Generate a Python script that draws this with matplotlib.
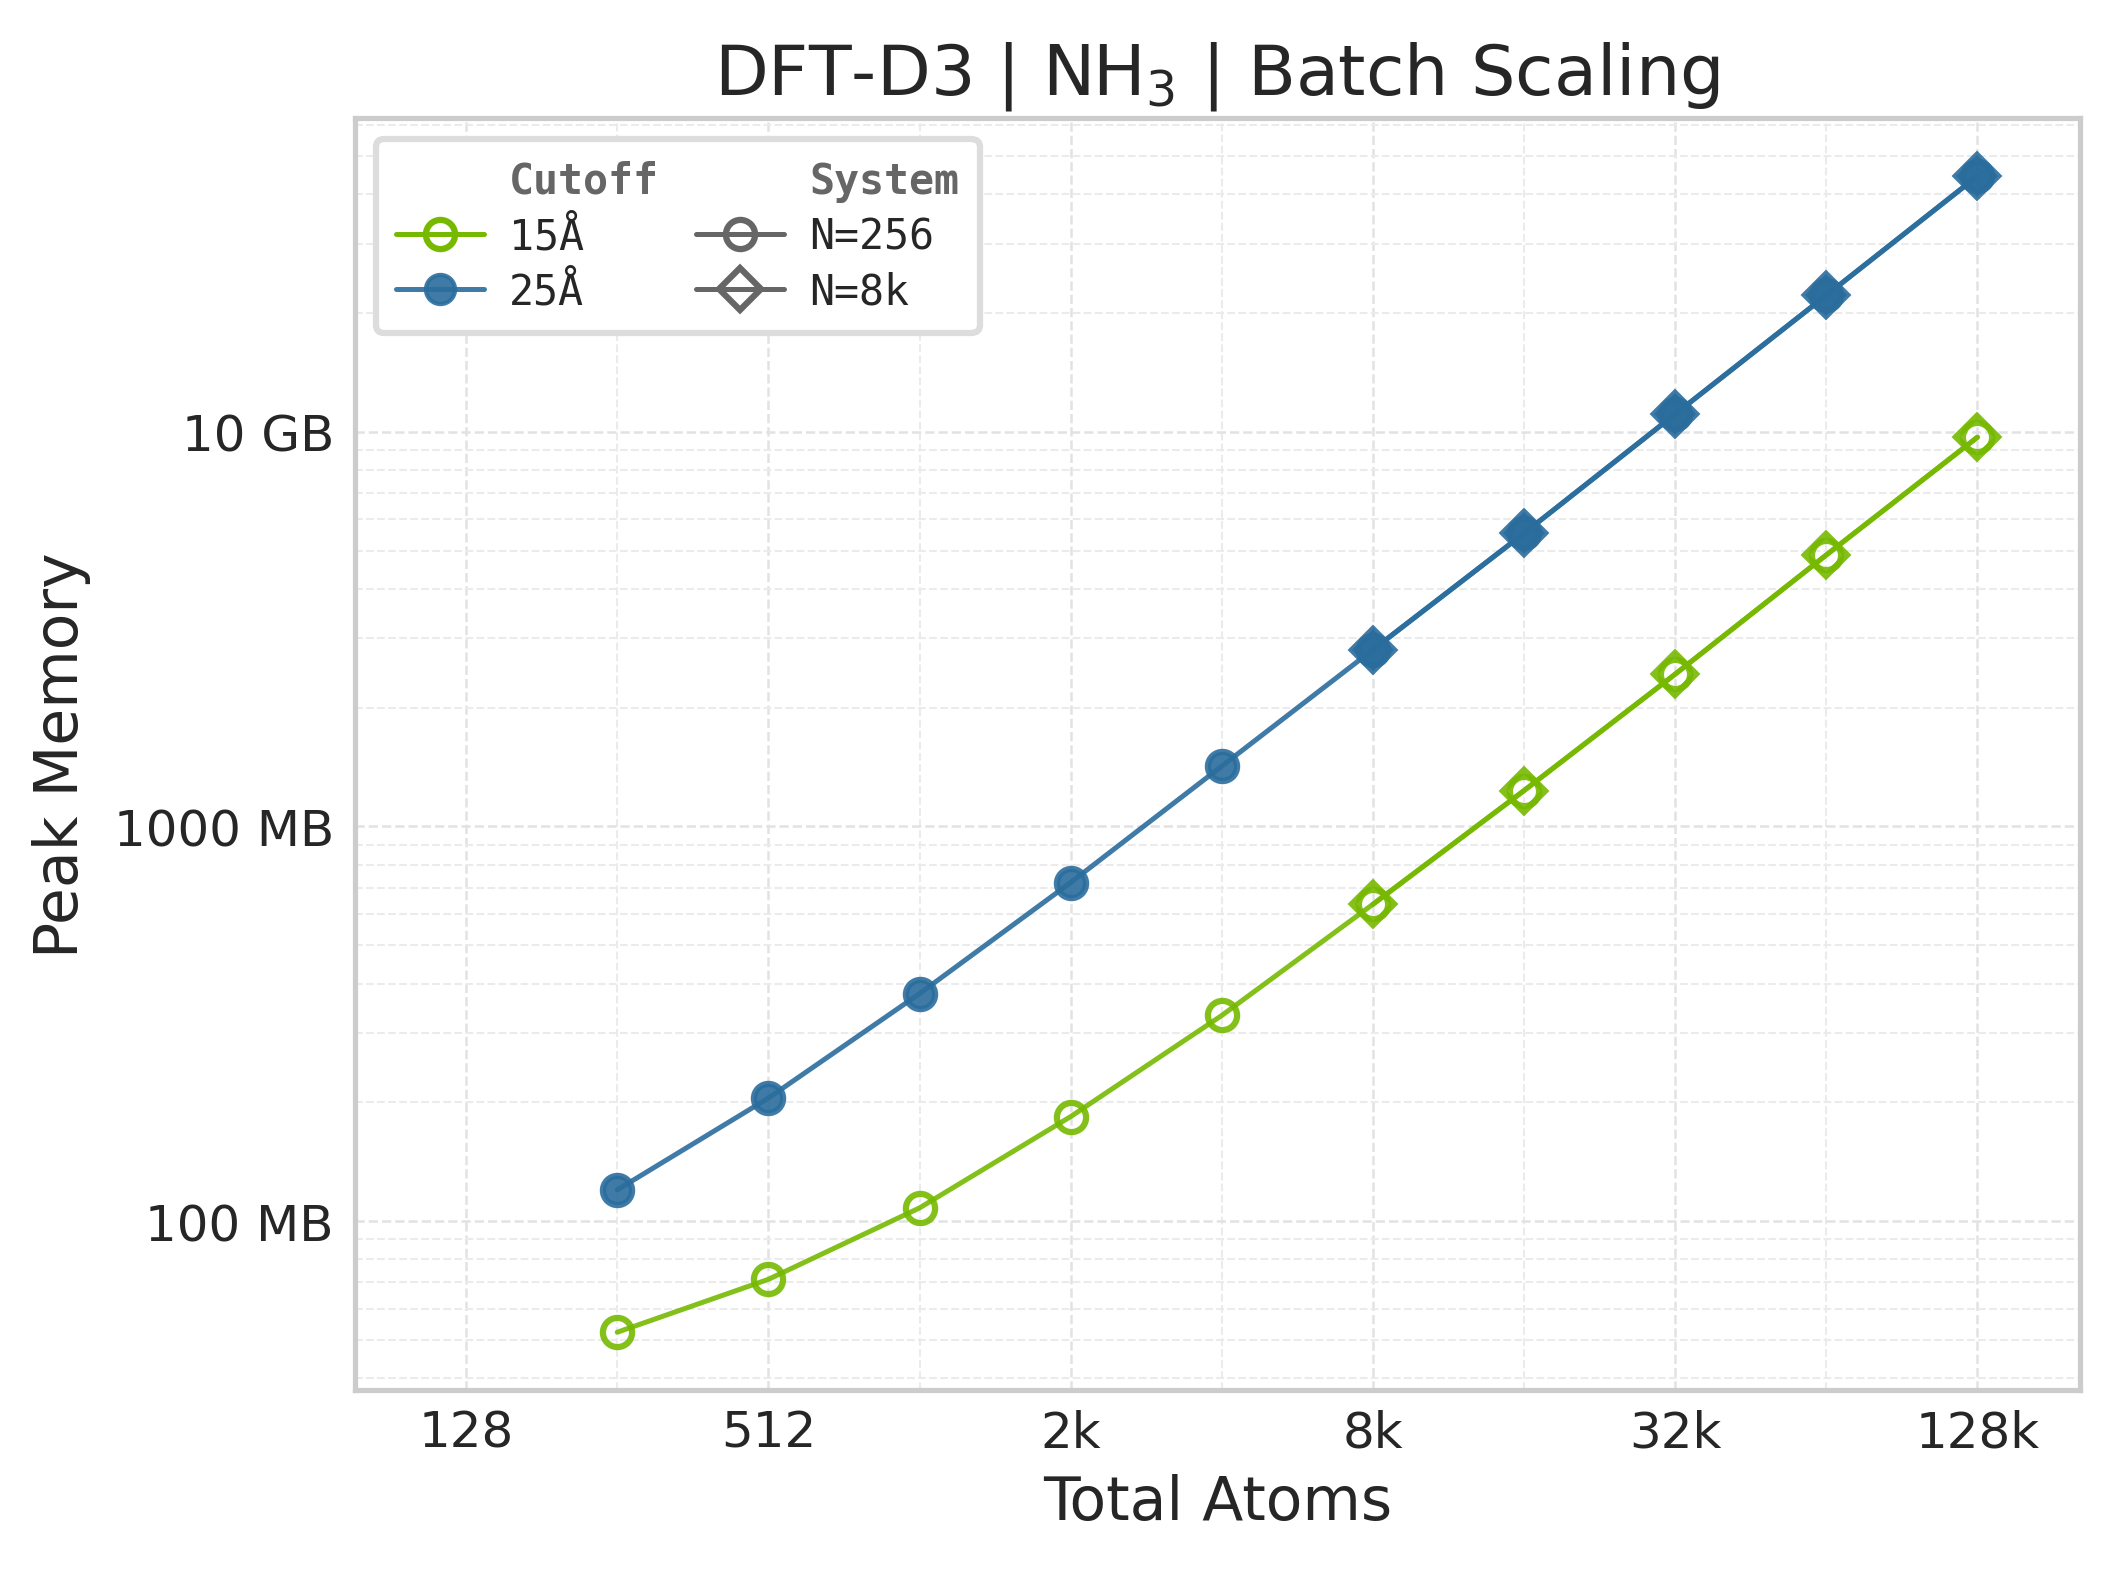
"""Peak memory vs total atoms for DFT-D3 batch scaling (NH3)."""

import matplotlib
matplotlib.use("Agg")
import matplotlib.pyplot as plt
import seaborn as sns
from matplotlib.lines import Line2D
from matplotlib.ticker import FixedLocator, FuncFormatter, LogLocator, NullFormatter


# total atoms = system size x batch size
ATOMS_N256 = [256, 512, 1024, 2048, 4096, 8192, 16384, 32768, 65536, 131072]
ATOMS_N8K = [8192, 16384, 32768, 65536, 131072]

# peak memory in MB
MEM_15A_N256 = [52.3, 71.2, 108, 184, 332, 635, 1233, 2432, 4875, 9690]
MEM_15A_N8K = [635, 1233, 2432, 4875, 9690]
MEM_25A_N256 = [120, 205, 377, 721, 1422, 2805, 5533, 11090, 22180, 44460]
MEM_25A_N8K = [2805, 5533, 11090, 22180, 44460]

X_TICKS = [128, 512, 2048, 8192, 32768, 131072]
X_TICK_LABELS = ["128", "512", "2k", "8k", "32k", "128k"]

GREEN = "#76b900"
BLUE = "#2a6d9c"
GREY = "#666666"


def _mem_label(value, _pos):
    if value >= 10000:
        return f"{value / 1000:.0f} GB"
    return f"{value:.0f} MB"


def _plot_series(axis, x, y, color, marker, filled):
    face = color if filled else "none"
    axis.plot(x, y, color=color, linewidth=1.2, alpha=0.9, marker=marker, markersize=7,
              markerfacecolor=face, markeredgecolor=color, markeredgewidth=1.5, zorder=3)


def main():
    sns.set_style("whitegrid")
    plt.rcParams["font.family"] = ["DejaVu Sans"]

    fig = plt.figure(figsize=(7.06, 5.2333), dpi=300)
    axis = fig.add_axes([0.1675, 0.114, 0.8145, 0.81])

    _plot_series(axis, ATOMS_N256, MEM_15A_N256, GREEN, "o", False)
    _plot_series(axis, ATOMS_N8K, MEM_15A_N8K, GREEN, "D", False)
    _plot_series(axis, ATOMS_N256, MEM_25A_N256, BLUE, "o", True)
    _plot_series(axis, ATOMS_N8K, MEM_25A_N8K, BLUE, "D", True)

    axis.set_xscale("log", base=2)
    axis.set_yscale("log")
    axis.set_xlim(128 * 0.6, 131072 * 1.6)

    axis.xaxis.set_major_locator(FixedLocator(X_TICKS))
    axis.set_xticklabels(X_TICK_LABELS)
    axis.xaxis.set_minor_locator(LogLocator(base=2, subs=(1.0,), numticks=30))
    axis.xaxis.set_minor_formatter(NullFormatter())
    axis.yaxis.set_major_locator(LogLocator(base=10, numticks=10))
    axis.yaxis.set_major_formatter(FuncFormatter(_mem_label))
    axis.yaxis.set_minor_locator(LogLocator(base=10, subs=range(2, 10), numticks=30))
    axis.yaxis.set_minor_formatter(NullFormatter())

    axis.tick_params(axis="both", which="both", length=0, labelsize=12, colors="#262626")
    axis.tick_params(axis="x", pad=4.5)
    axis.tick_params(axis="y", pad=5)
    axis.grid(True, which="major", linestyle="--", linewidth=0.6, color="#e2e2e2")
    axis.grid(True, which="minor", linestyle="--", linewidth=0.5, color="#ebebeb")
    for spine in axis.spines.values():
        spine.set_color("#cccccc")
        spine.set_linewidth(1.25)

    axis.set_title("DFT-D3 | NH$_3$ | Batch Scaling", fontsize=16.8, color="#262626", pad=6)
    axis.set_xlabel("Total Atoms", fontsize=14.4, color="#262626")
    axis.set_ylabel("Peak Memory", fontsize=14.4, color="#262626", labelpad=5.5)

    blank = Line2D([], [], color="none")
    handles = [
        blank,
        Line2D([], [], color=GREEN, linewidth=1.2, marker="o", markersize=7,
               markerfacecolor="none", markeredgewidth=1.5),
        Line2D([], [], color=BLUE, linewidth=1.2, alpha=0.9, marker="o", markersize=7),
        blank,
        Line2D([], [], color=GREY, linewidth=1.2, marker="o", markersize=7,
               markerfacecolor="none", markeredgewidth=1.5),
        Line2D([], [], color=GREY, linewidth=1.2, marker="D", markersize=7,
               markerfacecolor="none", markeredgewidth=1.5),
    ]
    labels = ["Cutoff", "15Å", "25Å", "System", "N=256", "N=8k"]
    legend = axis.legend(handles, labels, loc="upper left", ncol=2, frameon=True,
                         prop={"family": "DejaVu Sans Mono", "size": 10},
                         handlelength=2.1, handletextpad=0.6, columnspacing=0.9,
                         labelspacing=0.32, borderpad=0.5)
    legend.get_frame().set_edgecolor("#dddddd")
    legend.get_frame().set_linewidth(1.5)
    legend.get_frame().set_alpha(1.0)
    for text in legend.get_texts():
        text.set_color("#262626")
        if text.get_text() in ("Cutoff", "System"):
            text.set_fontweight("bold")
            text.set_color(GREY)

    fig.savefig("out.png", dpi=300)
    plt.close(fig)


if __name__ == "__main__":
    main()
